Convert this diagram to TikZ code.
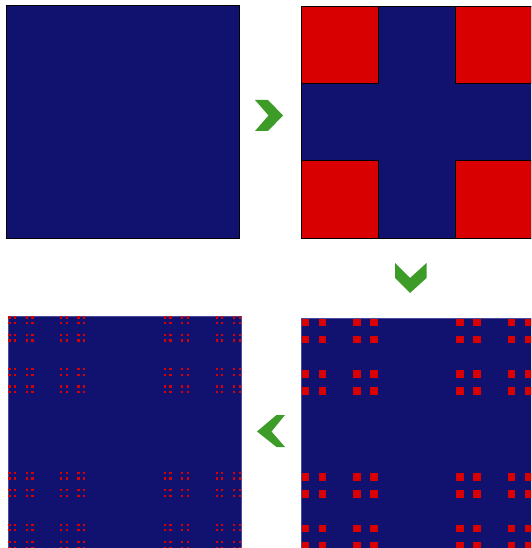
\documentclass[tikz,border=0pt]{standalone}
\usepackage{xcolor}
\definecolor{dustblue}{HTML}{11116F}
\definecolor{dustred}{HTML}{D80000}
\definecolor{stepgreen}{HTML}{3D9B28}
\definecolor{rimblue}{HTML}{4A4A9A}

\begin{document}
\begin{tikzpicture}[x=1pt,y=-1pt,
  panel/.style={fill=dustblue, draw=black, line width=0.8pt},
  softpanel/.style={fill=dustblue, draw=rimblue, line width=0.8pt},
  hole/.style={fill=dustred, draw=black, line width=0.8pt},
  speck/.style={fill=dustred},
  chevron/.style={fill=stepgreen, draw=none}]
\useasboundingbox (0,0) rectangle (531,548);
\clip (0,0) rectangle (531,548);
% stage 0
\begin{scope}[shift={(6,5)}]
\draw[panel] (0,0) rectangle (233,233);
\end{scope}
% stage 1
\begin{scope}[shift={(301,6)}]
\draw[panel] (0,0) rectangle (232,232);
\foreach \i in {0,2}
  \foreach \j in {0,2}
    \draw[hole] (\i*77.333,\j*77.333) rectangle ++(77.333,77.333);
\end{scope}
% stage 3
\begin{scope}[shift={(301,318)}]
\draw[softpanel] (0,0) rectangle (232,232);
\foreach \i in {0,2,6,8,18,20,24,26}
  \foreach \j in {0,2,6,8,18,20,24,26}
    \fill[speck] (\i*8.5926+0.6,\j*8.5926+0.6) rectangle ++(7.4,7.4);
\end{scope}
% stage 4
\begin{scope}[shift={(8,316)}]
\draw[softpanel] (0,0) rectangle (233,233);
\foreach \i in {0,2,6,8,18,20,24,26,54,56,60,62,72,74,78,80}
  \foreach \j in {0,2,6,8,18,20,24,26,54,56,60,62,72,74,78,80}
    \fill[speck] (\i*2.8765+0.4,\j*2.8765+0.4) rectangle ++(2.1,2.1);
\end{scope}
% arrows between stages
\fill[chevron] (255,100) -- (268,100) -- (283,115.5) -- (268,131) -- (255,131) -- (268.5,115.5) -- cycle;
\fill[chevron] (395,263) -- (410,278) -- (426.5,263) -- (426.5,278) -- (410,293) -- (395,278) -- cycle;
\fill[chevron] (285,415) -- (276.5,415) -- (257,431.5) -- (276.5,447) -- (285,447) -- (271.5,431.5) -- cycle;
\end{tikzpicture}
\end{document}
